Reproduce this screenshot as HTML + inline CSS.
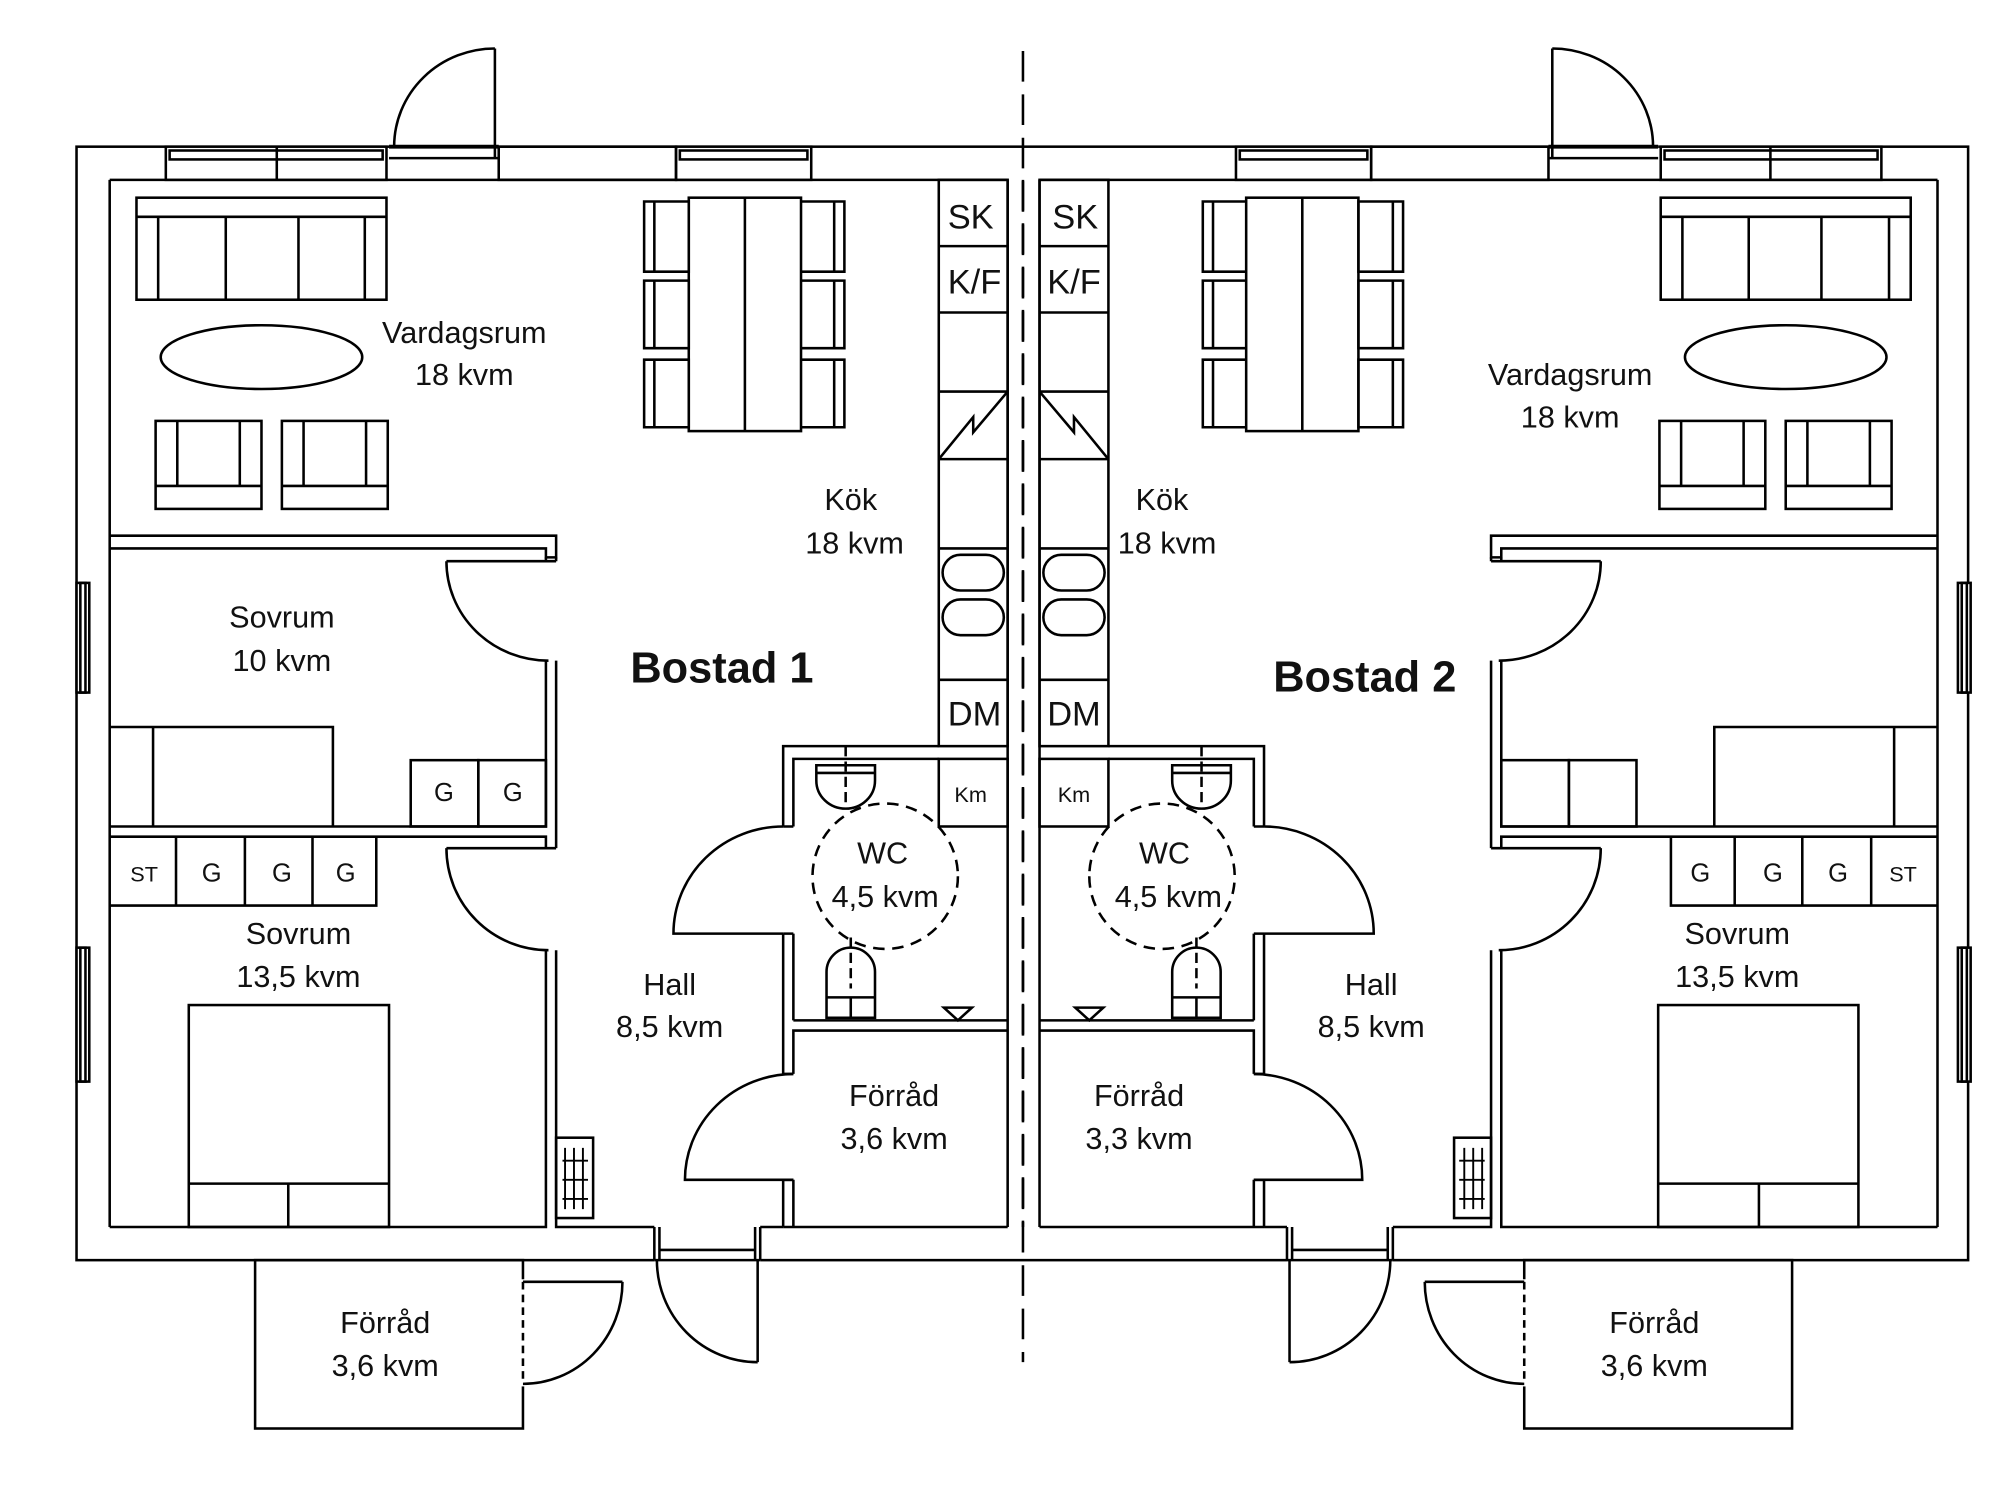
<!DOCTYPE html>
<html><head><meta charset="utf-8"><style>
html,body{margin:0;padding:0;background:#fff;}
svg{display:block;}
text{font-family:"Liberation Sans",sans-serif;fill:#111;}
</style></head><body>
<svg width="2000" height="1491" viewBox="0 0 1568 1169" preserveAspectRatio="none" xmlns="http://www.w3.org/2000/svg">
<rect width="1568" height="1169" fill="#fff"/>
<g fill="none" stroke="#000" stroke-width="2">
<rect x="60" y="115" width="1483" height="873"/>
<line x1="802" y1="40" x2="802" y2="1068" stroke-dasharray="24,10"/>
</g>
<defs>
<g id="unit" fill="none" stroke="#000" stroke-width="2">
  <line x1="86" y1="141" x2="790" y2="141"/>
  <line x1="86" y1="141" x2="86" y2="962"/>
  <rect x="130" y="115" width="173" height="26" fill="#fff"/>
  <line x1="217" y1="115" x2="217" y2="141"/>
  <rect x="133" y="118" width="167" height="7"/>
  <rect x="530" y="115" width="106" height="26" fill="#fff"/>
  <rect x="533" y="118" width="100" height="7"/>
  <rect x="305" y="112" width="86" height="12" fill="#fff" stroke="none"/>
  <line x1="305" y1="115" x2="391" y2="115" stroke-width="3"/>
  <line x1="305" y1="124" x2="391" y2="124"/>
  <line x1="388" y1="38" x2="388" y2="124"/>
  <path d="M309,115 A79,77 0 0 1 388,38"/>
  <rect x="391" y="115" width="139" height="26" fill="none"/>
  <rect x="60" y="457" width="10" height="86" fill="#fff"/>
  <rect x="63" y="457" width="4" height="86"/>
  <rect x="60" y="743" width="10" height="105" fill="#fff"/>
  <rect x="63" y="743" width="4" height="105"/>
  <path d="M86,420 H436 V437 H428 V430 H86"/>
  <path d="M428,437 V440 M436,437 V440"/>
  <path d="M428,518 V648 H86 M436,518 V665"/>
  <path d="M86,656 H428 V665"/>
  <path d="M428,745 V962 H86 M436,745 V962 H515"/>
  <line x1="350" y1="440" x2="436" y2="440"/>
  <path d="M350,440 A80,78 0 0 0 430,518"/>
  <line x1="350" y1="665" x2="436" y2="665"/>
  <path d="M350,665 A80,80 0 0 0 430,745"/>
  <!-- bottom door hall -->
  <rect x="513" y="960" width="83" height="30" fill="#fff" stroke="none"/>
  <path d="M513,962 V988 M517,962 V988 M592,962 V988 M596,962 V988"/>
  <line x1="517" y1="980" x2="592" y2="980"/>
  <line x1="513" y1="988" x2="596" y2="988"/>
  <line x1="594" y1="988" x2="594" y2="1068"/>
  <path d="M515,988 A79,80 0 0 0 594,1068"/>
  <line x1="596" y1="962" x2="614" y2="962"/>
  <rect x="436" y="892" width="29" height="63"/>
  <path d="M443,900 V948 M450,900 V948 M457,900 V948 M441,910 H461 M441,925 H461 M441,940 H461" stroke-width="1.5"/>
  <path d="M614,962 V925 M614,842 V732 M614,648 V585 H736"/>
  <path d="M622,962 V925 M622,842 V808 H790 M622,800 H790 M622,800 V732 M622,648 V595 H736"/>
  <line x1="614" y1="962" x2="790" y2="962"/>
  <path d="M614,648 H622 M614,732 H622 M614,842 H622 M614,925 H622"/>
  <path d="M614,648 A86,84 0 0 0 528,732 L614,732"/>
  <path d="M622,842 A86,83 0 0 0 537,925 L622,925"/>
  <line x1="790" y1="141" x2="790" y2="962"/>
  <rect x="736" y="141" width="54" height="444"/>
  <path d="M736,193 H790 M736,245 H790 M736,307 H790 M736,360 H790 M736,430 H790 M736,533 H790"/>
  <path d="M736,360 L763,327 L763,339 L790,307"/>
  <rect x="739" y="435" width="48" height="28" rx="14"/>
  <rect x="739" y="470" width="48" height="28" rx="14"/>
  <rect x="736" y="595" width="54" height="53"/>
  <path d="M640,600 H686 V612 A23,22 0 0 1 640,612 Z"/>
  <line x1="640" y1="606" x2="686" y2="606"/>
  <line x1="663" y1="585" x2="663" y2="630" stroke-dasharray="8,4"/>
  <circle cx="694" cy="687" r="57" stroke-dasharray="9,6"/>
  <path d="M648,798 V762 A19,19 0 0 1 686,762 V798 Z"/>
  <path d="M648,782 H686 M667,782 V798"/>
  <line x1="667" y1="735" x2="667" y2="775" stroke-dasharray="8,4"/>
  <path d="M740,790 H762 L751,800 Z"/>
  <rect x="107" y="155" width="196" height="80"/>
  <path d="M107,170 H303 M124,170 V235 M177,170 V235 M234,170 V235 M286,170 V235"/>
  <ellipse cx="205" cy="280" rx="79" ry="25"/>
  <rect x="122" y="330" width="83" height="69"/>
  <path d="M139,330 V381 M188,330 V381 M122,381 H205"/>
  <rect x="221" y="330" width="83" height="69"/>
  <path d="M238,330 V381 M287,330 V381 M221,381 H304"/>
  <rect x="540" y="155" width="88" height="183"/>
  <line x1="584" y1="155" x2="584" y2="338"/>
  <path d="M505,158 H540 V213 H505 Z M513,158 V213 M505,220 H540 V273 H505 Z M513,220 V273 M505,282 H540 V335 H505 Z M513,282 V335"/>
  <path d="M628,158 H662 V213 H628 M654,158 V213 M628,220 H662 V273 H628 M654,220 V273 M628,282 H662 V335 H628 M654,282 V335"/>
  <path d="M86,570 H261 V648 M120,570 V648"/>
  <rect x="322" y="596" width="53" height="52"/>
  <rect x="375" y="596" width="53" height="52"/>
  <path d="M86,710 H295 V656 M138,656 V710 M192,656 V710 M245,656 V710"/>
  <rect x="148" y="788" width="157" height="174"/>
  <path d="M148,928 H305 M226,928 V962"/>
  <rect x="200" y="988" width="210" height="132"/>
  <rect x="406" y="1003" width="8" height="84" fill="#fff" stroke="none"/>
  <line x1="410" y1="1005" x2="410" y2="1085" stroke-dasharray="6,4"/>
  <line x1="410" y1="1005" x2="488" y2="1005"/>
  <path d="M488,1005 A78,80 0 0 1 410,1085"/>
</g>
</defs>
<use href="#unit"/>
<use href="#unit" transform="translate(1605,0) scale(-1,1)"/>
<line x1="802" y1="141" x2="802" y2="962" stroke="#000" stroke-width="2" stroke-dasharray="24,10"/>
<g font-size="24" text-anchor="middle">
<text x="364" y="269">Vardagsrum</text><text x="364" y="302">18 kvm</text>
<text x="1231" y="302">Vardagsrum</text><text x="1231" y="335">18 kvm</text>
<text x="667" y="400">Kök</text><text x="670" y="434">18 kvm</text>
<text x="911" y="400">Kök</text><text x="915" y="434">18 kvm</text>
<text x="221" y="492">Sovrum</text><text x="221" y="526">10 kvm</text>
<text x="234" y="740">Sovrum</text><text x="234" y="774">13,5 kvm</text>
<text x="1362" y="740">Sovrum</text><text x="1362" y="774">13,5 kvm</text>
<text x="525" y="780">Hall</text><text x="525" y="813">8,5 kvm</text>
<text x="1075" y="780">Hall</text><text x="1075" y="813">8,5 kvm</text>
<text x="692" y="677">WC</text><text x="694" y="711">4,5 kvm</text>
<text x="913" y="677">WC</text><text x="916" y="711">4,5 kvm</text>
<text x="701" y="867">Förråd</text><text x="701" y="901">3,6 kvm</text>
<text x="893" y="867">Förråd</text><text x="893" y="901">3,3 kvm</text>
<text x="302" y="1045">Förråd</text><text x="302" y="1079">3,6 kvm</text>
<text x="1297" y="1045">Förråd</text><text x="1297" y="1079">3,6 kvm</text>
<text x="761" y="179" font-size="27">SK</text><text x="843" y="179" font-size="27">SK</text>
<text x="764" y="230" font-size="27">K/F</text><text x="842" y="230" font-size="27">K/F</text>
<text x="764" y="569" font-size="27">DM</text><text x="842" y="569" font-size="27">DM</text>
<text x="761" y="629" font-size="17">Km</text><text x="842" y="629" font-size="17">Km</text>
<g font-size="20">
<text x="348" y="628">G</text><text x="402" y="628">G</text>
<text x="113" y="691" font-size="17">ST</text><text x="166" y="691">G</text><text x="221" y="691">G</text><text x="271" y="691">G</text>
<text x="1333" y="691">G</text><text x="1390" y="691">G</text><text x="1441" y="691">G</text><text x="1492" y="691" font-size="17">ST</text>
</g>
<text x="566" y="535" font-size="34" font-weight="bold">Bostad 1</text>
<text x="1070" y="542" font-size="34" font-weight="bold">Bostad 2</text>
</g>
</svg>
</body></html>
